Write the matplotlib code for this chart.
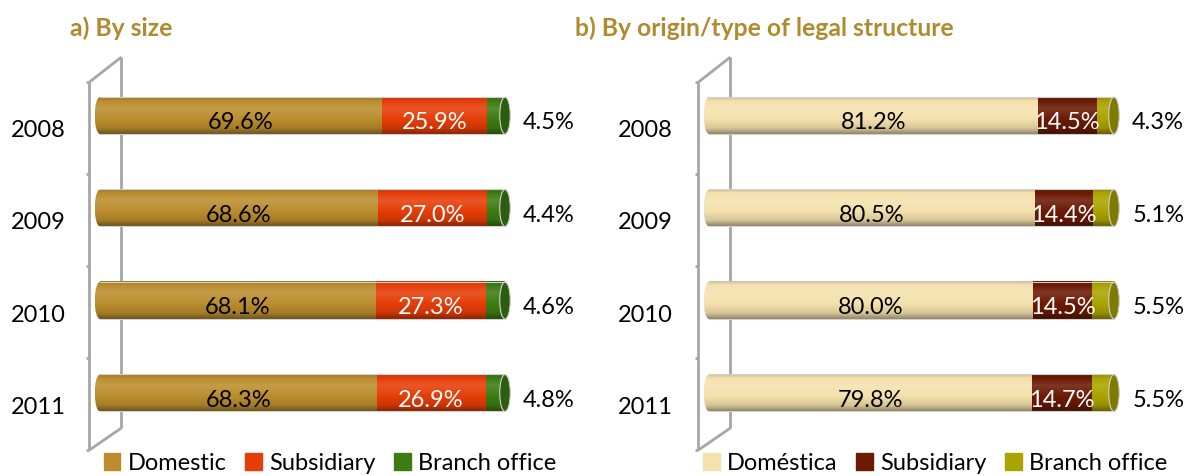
import numpy as np
import matplotlib
matplotlib.use("Agg")
import matplotlib.pyplot as plt
from matplotlib.patches import Ellipse
from matplotlib.colors import to_rgb

plt.rcParams["font.family"] = ["Lato", "DejaVu Sans"]

# data
years = ["2008", "2009", "2010", "2011"]

size_labels = ["Domestic", "Subsidiary", "Branch office"]
size_domestic = [69.6, 68.6, 68.1, 68.3]
size_subsidiary = [25.9, 27.0, 27.3, 26.9]
size_branch = [4.5, 4.4, 4.6, 4.8]

origin_labels = ["Doméstica", "Subsidiary", "Branch office"]
origin_domestic = [81.2, 80.5, 80.0, 79.8]
origin_subsidiary = [14.5, 14.4, 14.5, 14.7]
origin_branch = [4.3, 5.1, 5.5, 5.5]

SIZE_COLORS = ["#bb8d2e", "#e63d08", "#3d7c12"]
ORIGIN_COLORS = ["#f4e1ad", "#6c1a04", "#aaa400"]
TITLE_COLOR = "#b08a2e"
WALL = "#a6a6a6"

BAR_H = 0.40
PX = 476.0
FS = 17


def shade(color, n=40):
    """vertical cylinder-like gradient for one colour"""
    base = np.array(to_rgb(color))
    t = np.linspace(0, 1, n)
    f = np.interp(t, [0, 0.1, 0.3, 0.6, 0.85, 1.0], [0.85, 1.0, 1.08, 1.0, 0.88, 0.6])
    rows = []
    for v in f:
        if v > 1:
            c = base + (1 - base) * (v - 1) * 1.6
        else:
            c = base * v
        rows.append(np.clip(c, 0, 1))
    return np.array(rows)[:, None, :]


def draw_panel(ax, series, colors, text_colors, x0px):
    y = np.arange(len(years))
    lefts = np.zeros(len(years))
    for vals, col, tcol, k in zip(series, colors, text_colors, range(3)):
        vals = np.array(vals)
        grad = shade(col)
        for i in range(len(years)):
            ax.imshow(grad, extent=(lefts[i], lefts[i] + vals[i],
                                    y[i] + BAR_H / 2, y[i] - BAR_H / 2),
                      aspect="auto", interpolation="bilinear", zorder=3)
            if k < 2:
                ax.text(lefts[i] + vals[i] / 2, y[i] + 0.08, f"{vals[i]:.1f}%",
                        ha="center", va="center", fontsize=FS, color=tcol, zorder=6)
            else:
                ax.text(lefts[i] + vals[i] + 4.5, y[i] + 0.08, f"{vals[i]:.1f}%",
                        ha="left", va="center", fontsize=FS, color="black", zorder=6)
        lefts = lefts + vals

    for i in range(len(years)):
        # rounded back end
        el = Ellipse((0, y[i]), 2.6, BAR_H, transform=ax.transData)
        im = ax.imshow(shade(colors[0]), extent=(-1.3, 1.3, y[i] + BAR_H / 2, y[i] - BAR_H / 2),
                       aspect="auto", interpolation="bilinear", zorder=2)
        im.set_clip_path(el)
        # front cap
        cap = Ellipse((lefts[i], y[i]), 2.6, BAR_H,
                      facecolor=np.array(to_rgb(colors[2])) * 0.75,
                      edgecolor="#d0d0d0", lw=0.8, zorder=4)
        ax.add_patch(cap)
        # outline
        ax.plot([0, lefts[i]], [y[i] - BAR_H / 2] * 2, color="#d0d0d0", lw=0.8, zorder=4)
        ax.plot([0, lefts[i]], [y[i] + BAR_H / 2] * 2, color="#d0d0d0", lw=0.8, zorder=4)
        # year label
        ax.text((38 - x0px) / 4.05 if x0px < 600 else (645 - x0px) / 4.05,
                y[i] + 0.16, years[i], ha="center", va="center", fontsize=FS)

    # 3d wall
    front_x, back_x = -2.6, 5.3
    ftop, fbot = -0.362, 3.616
    btop, bbot = -0.632, 3.378
    kw = dict(color=WALL, lw=2, zorder=1, solid_capstyle="butt")
    ax.plot([front_x, front_x], [ftop, fbot], **kw)
    ax.plot([back_x, back_x], [btop, bbot], **kw)
    ax.plot([front_x, back_x], [ftop, btop], **kw)
    ax.plot([front_x, back_x], [fbot, bbot], **kw)
    for t in np.linspace(ftop, fbot, 5):
        ax.plot([front_x - 0.9, front_x], [t, t], **kw)

    ax.set_axis_off()


fig = plt.figure(figsize=(11.87, 4.76), dpi=100)

# axes geometry: 0% at x0px, 100% at x0px + 405, row i centred at 115.5 + 92.5 * i px
panels = [(0, 590, 100), (597, 1187, 709)]
axes = []
for a, b, x0 in panels:
    ax = fig.add_axes([a / 1187, 0, (b - a) / 1187, 1])
    axes.append(ax)

draw_panel(axes[0], [size_domestic, size_subsidiary, size_branch],
           SIZE_COLORS, ["black", "white", "black"], 100)
draw_panel(axes[1], [origin_domestic, origin_subsidiary, origin_branch],
           ORIGIN_COLORS, ["black", "white", "black"], 709)

for ax, (a, b, x0) in zip(axes, panels):
    ax.set_xlim((a - x0) / 4.05, (b - x0) / 4.05)
    ax.set_ylim((PX - 115.5) / 92.5, -115.5 / 92.5)

fig.text(70 / 1187, 1 - 28 / PX, "a) By size", fontsize=17.8, fontweight="bold",
         color=TITLE_COLOR, ha="left", va="center")
fig.text(575 / 1187, 1 - 28 / PX, "b) By origin/type of legal structure", fontsize=17.8,
         fontweight="bold", color=TITLE_COLOR, ha="left", va="center")

for labels, colors, cx in [(size_labels, SIZE_COLORS, 330), (origin_labels, ORIGIN_COLORS, 935)]:
    handles = [plt.Rectangle((0, 0), 1, 1, color=c) for c in colors]
    fig.legend(handles, labels, loc="center", bbox_to_anchor=(cx / 1187, 1 - 463 / PX),
               ncol=3, frameon=False, fontsize=FS, handlelength=0.7, handleheight=0.7,
               handletextpad=0.3, columnspacing=0.8, borderpad=0)

fig.savefig("out.png", dpi=100)
